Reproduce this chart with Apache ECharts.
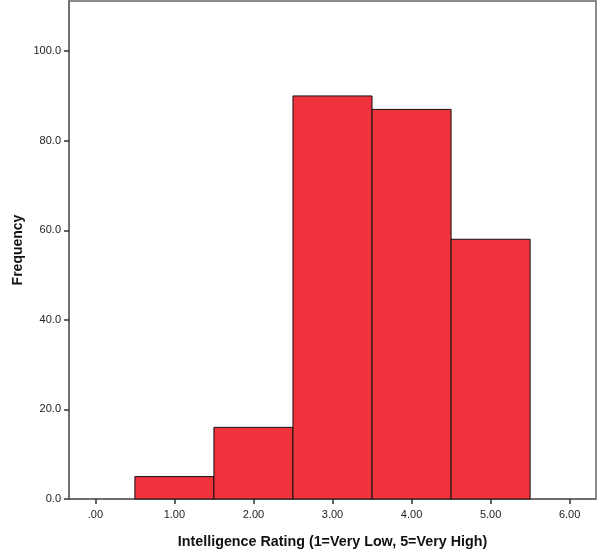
<!DOCTYPE html>
<html>
<head>
<meta charset="utf-8">
<script src="https://cdn.jsdelivr.net/npm/echarts@6/dist/echarts.min.js"></script>
<style>html,body{margin:0;padding:0;background:#fff}#c{width:602px;height:558px}</style>
</head>
<body>
<div id="c"></div>
<script>
var binCenters = [1, 2, 3, 4, 5];
var frequencies = [5, 16, 90, 87, 58];
var xTickValues = [0, 1, 2, 3, 4, 5, 6];
var yTickValues = [0, 20, 40, 60, 80, 100];

var data = binCenters.map(function (c, i) { return [c, frequencies[i]]; });
var chart = echarts.init(document.getElementById('c'), null, {renderer: 'canvas'});
var axisColor = '#666';
chart.setOption({
  animation: false,
  grid: {left: 69, right: 6, top: 1, bottom: 59, show: true, borderColor: axisColor, borderWidth: 1.5, backgroundColor: 'transparent'},
  xAxis: {
    type: 'value', min: -1/3, max: 19/3,
    name: 'Intelligence Rating (1=Very Low, 5=Very High)',
    nameLocation: 'middle', nameGap: 36, nameMoveOverlap: false,
    nameTextStyle: {fontFamily: 'Liberation Sans, Arial', fontWeight: 'bold', fontSize: 14.3, color: '#111'},
    axisLine: {show: true, onZero: false, lineStyle: {color: axisColor, width: 1.5}},
    axisTick: {show: true, length: 5, lineStyle: {color: '#333', width: 1.5}, customValues: xTickValues},
    axisLabel: {customValues: xTickValues, fontFamily: 'Liberation Sans, Arial', fontSize: 11, color: '#222', margin: 10,
      formatter: function (v) { var s = v.toFixed(2); return s === '0.00' ? '.00' : s; }},
    splitLine: {show: false}
  },
  yAxis: {
    type: 'value', min: 0, max: 111.2,
    name: 'Frequency', nameLocation: 'middle', nameGap: 44, nameMoveOverlap: false,
    nameTextStyle: {fontFamily: 'Liberation Sans, Arial', fontWeight: 'bold', fontSize: 14, color: '#111'},
    axisLine: {show: true, onZero: false, lineStyle: {color: axisColor, width: 1.5}},
    axisTick: {show: true, length: 5, lineStyle: {color: '#333', width: 1.5}, customValues: yTickValues},
    axisLabel: {customValues: yTickValues, fontFamily: 'Liberation Sans, Arial', fontSize: 11, color: '#222', margin: 8,
      formatter: function (v) { return v.toFixed(1); }},
    splitLine: {show: false}
  },
  series: [{
    type: 'custom',
    data: data,
    renderItem: function (params, api) {
      var c = api.value(0), f = api.value(1);
      var p0 = api.coord([c - 0.5, 0]);
      var p1 = api.coord([c + 0.5, f]);
      return {
        type: 'rect',
        shape: {x: p0[0], y: p1[1], width: p1[0] - p0[0], height: p0[1] - p1[1]},
        style: {fill: '#F0323C', stroke: '#111', lineWidth: 1}
      };
    }
  }]
});
</script>
</body>
</html>
